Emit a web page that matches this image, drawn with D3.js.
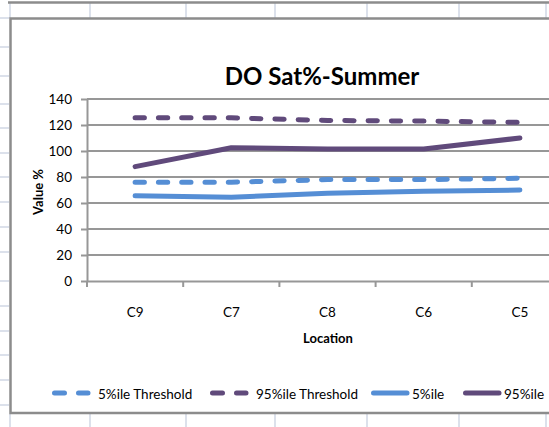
<!DOCTYPE html>
<html>
<head>
<meta charset="utf-8">
<script src="https://cdn.jsdelivr.net/npm/d3@7"></script>
<style>
  body { margin: 0; background: #fff; }
  svg { display: block; font-family: Lato, "Liberation Sans", sans-serif; }
</style>
</head>
<body>
<svg id="chart" width="549" height="427"></svg>
<script>
// data
const locations = ["C9", "C7", "C8", "C6", "C5"];
const p5Threshold = [76, 76, 78, 78, 79];
const p95Threshold = [125.5, 125.5, 123.5, 123, 122];
const p5 = [65.5, 64.5, 67.5, 69, 70];
const p95 = [88, 102.5, 101.5, 101.5, 110];
const yTicks = [0, 20, 40, 60, 80, 100, 120, 140];

const blue = "#558ed5", purple = "#604a7b";
const series = [
  {name: "5%ile Threshold", values: p5Threshold, color: blue, dash: true},
  {name: "95%ile Threshold", values: p95Threshold, color: purple, dash: true},
  {name: "5%ile", values: p5, color: blue, dash: false},
  {name: "95%ile", values: p95, color: purple, dash: false}
];

const svg = d3.select("#chart");

// spreadsheet cells behind the chart
const cellGrid = "#d0d7e5";
let bg = svg.append("g");
[10, 90, 186, 275, 367, 459, 546].forEach(x => {
  bg.append("line").attr("x1", x).attr("x2", x).attr("y1", 3).attr("y2", 18)
    .attr("stroke", cellGrid).attr("stroke-width", 1.5);
  bg.append("line").attr("x1", x).attr("x2", x).attr("y1", 414).attr("y2", 427)
    .attr("stroke", cellGrid).attr("stroke-width", 1.5);
});
[18, 47, 76, 104, 128, 153, 177, 202, 227, 252, 281, 306, 331, 355, 380, 405].forEach(y => {
  bg.append("line").attr("x1", 0).attr("x2", 9).attr("y1", y).attr("y2", y)
    .attr("stroke", cellGrid).attr("stroke-width", 1.5);
});
bg.append("line").attr("x1", 8).attr("x2", 549).attr("y1", 2.5).attr("y2", 2.5)
  .attr("stroke", "#8c8c8c").attr("stroke-width", 2.5);

// chart frame
svg.append("path")
  .attr("d", "M549,18.5 H10.5 V413 H549")
  .attr("fill", "#fff").attr("stroke", "#8c8c8c").attr("stroke-width", 2.5);

const plot = {left: 87, right: 568, top: 99, bottom: 281};

const x = d3.scaleBand().domain(locations).range([plot.left, plot.right]);
const y = d3.scaleLinear().domain([0, 140]).range([plot.bottom, plot.top]);

const gridColor = "#979797";

// gridlines
svg.append("g").selectAll("line").data(yTicks.filter(d => d > 0)).join("line")
  .attr("x1", plot.left).attr("x2", plot.right)
  .attr("y1", d => y(d)).attr("y2", d => y(d))
  .attr("stroke", gridColor).attr("stroke-width", 2);

// y axis
let yAxis = svg.append("g").attr("transform", `translate(${plot.left},0)`)
  .call(d3.axisLeft(y).tickValues(yTicks).tickSizeInner(6).tickSizeOuter(0).tickPadding(9));
yAxis.select(".domain").attr("stroke", gridColor).attr("stroke-width", 2);
yAxis.selectAll(".tick line").attr("stroke", gridColor).attr("stroke-width", 2);
yAxis.selectAll("text").attr("font-size", 13.5).attr("fill", "#000")
  .attr("font-family", "Lato, sans-serif");

// x axis
let xAxis = svg.append("g").attr("transform", `translate(0,${plot.bottom})`)
  .call(d3.axisBottom(x).tickSize(0).tickPadding(26));
xAxis.select(".domain").attr("stroke", gridColor).attr("stroke-width", 2);
xAxis.selectAll("text").attr("font-size", 13.5).attr("fill", "#000")
  .attr("font-family", "Lato, sans-serif");
// ticks between categories
const edges = locations.map(d => x(d)).concat([plot.right]);
svg.append("g").selectAll("line").data(edges).join("line")
  .attr("x1", d => d).attr("x2", d => d)
  .attr("y1", plot.bottom).attr("y2", plot.bottom + 6)
  .attr("stroke", gridColor).attr("stroke-width", 2);

// series
const line = d3.line()
  .x((d, i) => x(locations[i]) + x.bandwidth() / 2)
  .y(d => y(d));

svg.append("g").selectAll("path").data(series).join("path")
  .attr("d", d => line(d.values))
  .attr("fill", "none")
  .attr("stroke", d => d.color)
  .attr("stroke-width", 5)
  .attr("stroke-linecap", "round")
  .attr("stroke-linejoin", "round")
  .attr("stroke-dasharray", d => d.dash ? "9.3,14" : null);

// titles
svg.append("text").attr("x", 322).attr("y", 85).attr("text-anchor", "middle")
  .attr("font-size", 24).attr("font-weight", "bold").text("DO Sat%-Summer");

svg.append("text").attr("x", 328).attr("y", 343).attr("text-anchor", "middle")
  .attr("font-size", 13).attr("font-weight", "bold").text("Location");

svg.append("text")
  .attr("transform", "translate(43,192) rotate(-90)")
  .attr("text-anchor", "middle")
  .attr("font-size", 13).attr("font-weight", "bold").text("Value %");

// legend
const legendX = [52, 210, 371, 463];
const legendY = 393;
const leg = svg.append("g").selectAll("g").data(series).join("g")
  .attr("transform", (d, i) => `translate(${legendX[i]},${legendY})`);
leg.append("line")
  .attr("x1", 2.5).attr("x2", 36)
  .attr("stroke", d => d.color).attr("stroke-width", 5)
  .attr("stroke-linecap", "round")
  .attr("stroke-dasharray", d => d.dash ? "10,14" : null);
leg.append("text")
  .attr("x", (d, i) => i < 2 ? 46 : 41)
  .attr("y", 5.5)
  .attr("font-size", 13.5)
  .text(d => d.name);
</script>
</body>
</html>
